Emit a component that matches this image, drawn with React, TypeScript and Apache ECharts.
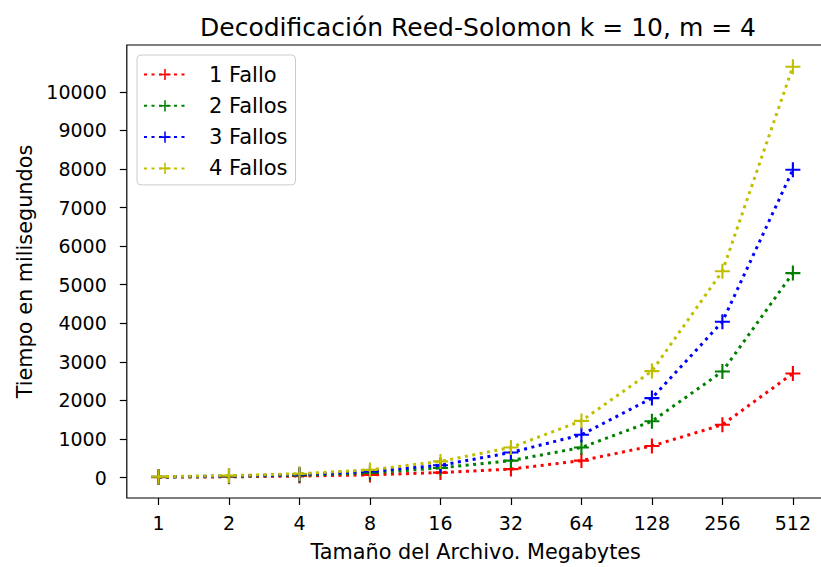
import React, { useEffect, useRef } from "react";
import * as echarts from "echarts";

const sizes = ["1", "2", "4", "8", "16", "32", "64", "128", "256", "512"];
const fallo1 = [10, 20, 40, 70, 130, 220, 440, 820, 1370, 2700];
const fallo2 = [15, 30, 60, 120, 250, 440, 780, 1460, 2750, 5300];
const fallo3 = [20, 40, 80, 160, 320, 650, 1110, 2060, 4040, 7980];
const fallo4 = [25, 50, 100, 200, 420, 780, 1470, 2760, 5350, 10650];
const yTicks = [0, 1000, 2000, 3000, 4000, 5000, 6000, 7000, 8000, 9000, 10000];
const seriesNames = ["1 Fallo", "2 Fallos", "3 Fallos", "4 Fallos"];
const seriesColors = ["#ff0000", "#008000", "#0000ff", "#bfbf00"];

const PLUS = "path://M4.3,0h1.4v4.3h4.3v1.4h-4.3v4.3h-1.4v-4.3h-4.3v-1.4h4.3z";
const FONT = "DejaVu Sans";

export default function App() {
  const ref = useRef<HTMLDivElement>(null);
  useEffect(() => {
    if (!ref.current) return;
    const chart = echarts.init(ref.current, undefined, { renderer: "svg" });
    const all = [fallo1, fallo2, fallo3, fallo4];
    chart.setOption({
      animation: false,
      backgroundColor: "#ffffff",
      title: {
        text: "Decodificación Reed-Solomon k = 10, m = 4",
        left: 473,
        top: 10,
        textAlign: "center",
        textStyle: { fontFamily: FONT, fontSize: 25, fontWeight: "normal", color: "#000" },
      },
      legend: {
        orient: "vertical",
        left: 137,
        top: 55,
        padding: [9, 8, 6, 6],
        itemWidth: 42,
        itemHeight: 14,
        itemGap: 10.3,
        borderColor: "#cccccc",
        borderWidth: 1,
        borderRadius: 4,
        backgroundColor: "rgba(255,255,255,0.8)",
        data: seriesNames,
        textStyle: { fontFamily: FONT, fontSize: 21, color: "#000", padding: [0, 0, 0, 18], lineHeight: 21 },
      },
      grid: {
        left: 126.8,
        top: 45,
        width: 697.8,
        height: 455,
        show: true,
        borderColor: "#000",
        borderWidth: 1.2,
        backgroundColor: "transparent",
      },
      xAxis: {
        type: "value",
        min: -0.45,
        max: 9.45,
        splitLine: { show: false },
        axisLine: { show: false, onZero: false },
        axisTick: { show: true, inside: false, length: 7, lineStyle: { color: "#000", width: 1.2 }, customValues: sizes.map((_, i) => i) },
        axisLabel: {
          customValues: sizes.map((_, i) => i),
          formatter: (v: number) => sizes[Math.round(v)] ?? "",
          fontFamily: FONT,
          fontSize: 19,
          color: "#000",
          margin: 15,
        },
        name: "Tamaño del Archivo. Megabytes",
        nameLocation: "middle",
        nameGap: 43,
        nameTextStyle: { fontFamily: FONT, fontSize: 20.8, color: "#000" },
      },
      yAxis: {
        type: "value",
        min: -529,
        max: 11213,
        splitLine: { show: false },
        axisLine: { show: false, onZero: false },
        axisTick: { show: true, inside: false, length: 7, lineStyle: { color: "#000", width: 1.2 }, customValues: yTicks },
        axisLabel: {
          customValues: yTicks,
          formatter: (v: number) => String(v),
          fontFamily: FONT,
          fontSize: 19,
          color: "#000",
          margin: 20,
        },
        name: "Tiempo en milisegundos",
        nameLocation: "middle",
        nameGap: 90,
        nameRotate: 90,
        nameTextStyle: { fontFamily: FONT, fontSize: 20.8, color: "#000" },
      },
      series: all.map((vals, si) => ({
        name: seriesNames[si],
        type: "line",
        data: vals.map((v, i) => [i, v]),
        symbol: PLUS,
        symbolSize: 15,
        showSymbol: true,
        color: seriesColors[si],
        itemStyle: { color: seriesColors[si] },
        lineStyle: { color: seriesColors[si], width: 3, type: [3, 4.5] },
        emphasis: { disabled: true },
        z: 2 + si,
      })),
    });
    return () => chart.dispose();
  }, []);
  return (
    <div style={{ position: "absolute", left: 0, top: 0, width: 821, height: 567, overflow: "hidden", background: "#fff" }}>
      <div ref={ref} style={{ width: 840, height: 567 }} />
    </div>
  );
}
